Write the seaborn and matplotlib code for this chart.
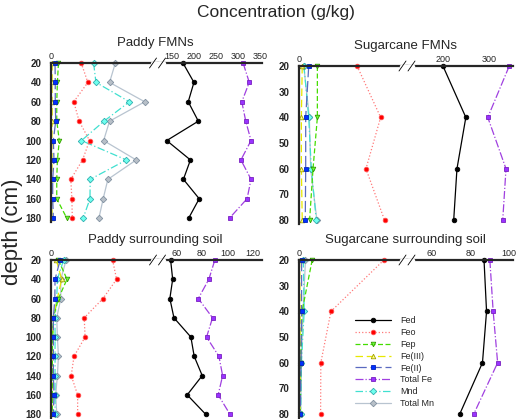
import matplotlib
matplotlib.use('Agg')
import matplotlib.pyplot as plt
import seaborn as sns
import pandas as pd
from matplotlib.lines import Line2D

# depths (cm)
depth_paddy = [20, 40, 60, 80, 100, 120, 140, 160, 180]
depth_cane = [20, 40, 60, 80]

# Paddy FMNs (g/kg)
pf_fed = [175, 200, 187, 210, 138, 192, 176, 212, 188]
pf_feo = [14.2, 17.3, 10.7, 13.2, 18.1, 14.8, 9.3, 9.8, 10.0]
pf_fep = [3.5, 3.0, 2.7, 2.7, 3.9, 3.0, 2.7, 2.7, 7.4]
pf_fe3 = [0.6, 0.5, 0.5, 0.6, 0.4, 0.5, 0.4, 0.4, 0.5]
pf_fe2 = [1.9, 2.0, 2.0, 2.2, 1.1, 1.4, 0.8, 0.8, 1.1]
pf_totfe = [312, 326, 309, 318, 330, 307, 330, 321, 281]
pf_mnd = [20.0, 21.1, 36.8, 24.9, 14.3, 35.4, 18.4, 18.3, 15.1]
pf_totmn = [30.2, 27.5, 44.0, 27.5, 24.7, 40.0, 26.7, 24.5, 22.5]

# Sugarcane FMNs
sf_fed = [200, 249, 230, 223]
sf_feo = [26.9, 37.8, 31.0, 39.6]
sf_fep = [8.5, 8.5, 6.5, 4.9]
sf_fe3 = [1.5, 1.1, 1.1, 1.5]
sf_fe2 = [4.5, 3.1, 3.1, 2.9]
sf_totfe = [342, 296, 335, 328]
sf_mnd = [2.3, 4.5, 5.7, 8.0]
sf_totmn = [2.2, 4.8, 5.4, 8.3]

# Paddy surrounding soil
ps_fed = [55.3, 56.9, 54.7, 57.9, 71.2, 73.8, 80.1, 68.3, 82.7]
ps_feo = [28.9, 30.8, 24.4, 15.6, 16.0, 10.8, 9.5, 12.5, 12.5]
ps_fep = [3.5, 7.5, 3.5, 1.1, 0.8, 0.6, 0.6, 0.6, 0.6]
ps_fe3 = [2.5, 5.0, 3.0, 1.0, 0.8, 0.5, 0.5, 0.5, 0.5]
ps_fe2 = [4.3, 1.9, 1.8, 1.1, 1.1, 1.1, 1.1, 1.4, 1.1]
ps_totfe = [90.0, 85.3, 77.0, 88.2, 83.5, 93.2, 96.1, 92.6, 101.8]
ps_mnd = [5.9, 3.0, 2.7, 1.9, 1.9, 1.9, 1.9, 1.9, 1.9]
ps_totmn = [7.1, 4.6, 4.6, 2.7, 3.0, 3.5, 3.0, 2.2, 2.7]

# Sugarcane surrounding soil
ss_fed = [87.1, 88.4, 86.3, 74.6]
ss_feo = [39.3, 14.8, 10.1, 10.0]
ss_fep = [6.1, 1.4, 0.8, 0.6]
ss_fe3 = [0.3, 0.5, 0.5, 0.5]
ss_fe2 = [1.2, 1.2, 0.9, 0.6]
ss_totfe = [90.1, 91.8, 94.1, 81.8]
ss_mnd = [2.0, 2.4, 1.1, 0.8]
ss_totmn = [3.0, 1.9, 1.1, 0.8]

series_names = ['Fed', 'Feo', 'Fep', 'Fe(III)', 'Fe(II)', 'Total Fe', 'Mnd', 'Total Mn']

styles = {
    'Fed': dict(color='black', ls='-', marker='o', mfc='black', mec='black'),
    'Feo': dict(color='#ff7878', ls=':', marker='o', mfc='#ff0000', mec='#ff5050'),
    'Fep': dict(color='#44dd00', ls=(0, (4, 2)), marker='v', mfc='#66ff33', mec='#339900'),
    'Fe(III)': dict(color='#e8e800', ls=(0, (6, 3)), marker='^', mfc='#ffff80', mec='#a0a000'),
    'Fe(II)': dict(color='#5a6ac0', ls=(0, (9, 3)), marker='s', mfc='#0030ff', mec='#0020c0'),
    'Total Fe': dict(color='#a040e0', ls='-.', marker='s', mfc='#9933ff', mec='#7a20c0'),
    'Mnd': dict(color='#40e0d0', ls=(0, (6, 2, 1, 2)), marker='D', mfc='#70ffee', mec='#30b0b0'),
    'Total Mn': dict(color='#b8c4d0', ls='-', marker='D', mfc='#b8c0c8', mec='#8090a0'),
}
draw_order = ['Total Mn', 'Mnd', 'Fe(III)', 'Fep', 'Fe(II)', 'Feo', 'Total Fe', 'Fed']
right_series = ['Fed', 'Total Fe']

panels = [
    dict(title='Paddy FMNs', depth=depth_paddy,
         data=dict(zip(series_names, [pf_fed, pf_feo, pf_fep, pf_fe3, pf_fe2, pf_totfe, pf_mnd, pf_totmn])),
         xl=(51, 157.5), yt=63, yb=222, ylim=(184, 20), yticks=range(20, 181, 20),
         rlim=(117, 355), rticks=[150, 200, 250, 300, 350]),
    dict(title='Sugarcane FMNs', depth=depth_cane,
         data=dict(zip(series_names, [sf_fed, sf_feo, sf_fep, sf_fe3, sf_fe2, sf_totfe, sf_mnd, sf_totmn])),
         xl=(299, 407), yt=66, yb=224, ylim=(81.5, 20), yticks=range(20, 81, 10),
         rlim=(123, 350), rticks=[200, 300]),
    dict(title='Paddy surrounding soil', depth=depth_paddy,
         data=dict(zip(series_names, [ps_fed, ps_feo, ps_fep, ps_fe3, ps_fe2, ps_totfe, ps_mnd, ps_totmn])),
         xl=(51, 157.5), yt=260, yb=418, ylim=(184, 20), yticks=range(20, 181, 20),
         rlim=(45, 127), rticks=[60, 80, 100, 120]),
    dict(title='Sugarcane surrounding soil', depth=depth_cane,
         data=dict(zip(series_names, [ss_fed, ss_feo, ss_fep, ss_fe3, ss_fe2, ss_totfe, ss_mnd, ss_totmn])),
         xl=(299, 407), yt=260, yb=418, ylim=(81.5, 20), yticks=range(20, 81, 10),
         rlim=(47.5, 102), rticks=[60, 80, 100]),
]

sns.set_style('white')
plt.rcParams['font.family'] = ['Liberation Sans', 'DejaVu Sans']

W, H = 520, 419
fig = plt.figure(figsize=(W / 100, H / 100), dpi=100)


def fx(x):
    return x / W


def fy(y):
    return 1 - y / H


def draw(ax, name, x, depth):
    st = styles[name]
    df = pd.DataFrame({'x': x, 'depth': depth})
    sns.lineplot(data=df, x='x', y='depth', ax=ax, orient='y', estimator=None,
                 color=st['color'], linestyle=st['ls'], lw=0.9,
                 marker=st['marker'], markersize=3.3, markerfacecolor=st['mfc'],
                 markeredgecolor=st['mec'], markeredgewidth=0.6,
                 clip_on=False, legend=False)


for p in panels:
    x0, xj = p['xl']
    x1 = 262 if x0 < 200 else 513
    h = p['yb'] - p['yt']
    axl = fig.add_axes([fx(x0), fy(p['yb']), (xj - x0) / W, h / H])
    axr = fig.add_axes([fx(xj), fy(p['yb']), (x1 - xj) / W, h / H], sharey=axl)
    for name in draw_order:
        ax = axr if name in right_series else axl
        draw(ax, name, p['data'][name], p['depth'])
    axl.set_xlim(0, 50)
    axr.set_xlim(*p['rlim'])
    axl.set_ylim(*p['ylim'])
    axl.set_yticks(list(p['yticks']))
    axl.set_xticks([0])
    axr.set_xticks(p['rticks'])
    for ax in (axl, axr):
        ax.set_facecolor('none')
        ax.xaxis.tick_top()
        ax.set_xlabel('')
        ax.set_ylabel('')
        ax.spines['bottom'].set_visible(False)
        ax.spines['right'].set_visible(False)
        ax.spines['top'].set_linewidth(1.6)
        ax.tick_params(axis='x', length=0, pad=1.5, labelsize=6.5)
    axl.spines['left'].set_linewidth(1.6)
    axr.spines['left'].set_visible(False)
    axl.tick_params(axis='y', length=0, pad=7, labelsize=7)
    for lab in axl.get_yticklabels():
        lab.set_fontweight('bold')
    axr.tick_params(axis='y', left=False, labelleft=False)
    # axis break marks
    yb = p['yt']
    fig.add_artist(Line2D([fx(xj - 6), fx(xj + 6)], [fy(yb), fy(yb)], color='white', lw=2.5))
    for dx in (-4.5, 4.5):
        fig.add_artist(Line2D([fx(xj + dx - 3.5), fx(xj + dx + 3.5)], [fy(yb + 5), fy(yb - 5)],
                              color='black', lw=0.6))
    fig.text(fx((x0 + x1) / 2 - 1), fy(p['yt'] - 20), p['title'], ha='center', va='center', fontsize=9.5)

fig.text(fx(276), fy(12), 'Concentration (g/kg)', ha='center', va='center', fontsize=12.5)
fig.text(fx(13), fy(232), 'depth (cm)', ha='center', va='center', rotation=90, fontsize=16)

handles = []
for name in series_names:
    st = styles[name]
    handles.append(Line2D([], [], color=st['color'], ls=st['ls'], lw=0.9, marker=st['marker'],
                          markersize=3.3, markerfacecolor=st['mfc'], markeredgecolor=st['mec'],
                          markeredgewidth=0.6))
fig.legend(handles, series_names, loc='upper left', bbox_to_anchor=(fx(355), fy(316)),
           frameon=False, fontsize=6.5, handlelength=4.0, handletextpad=1.0,
           labelspacing=0.32, borderpad=0, borderaxespad=0)

fig.savefig('out.png', dpi=100, facecolor='white')
